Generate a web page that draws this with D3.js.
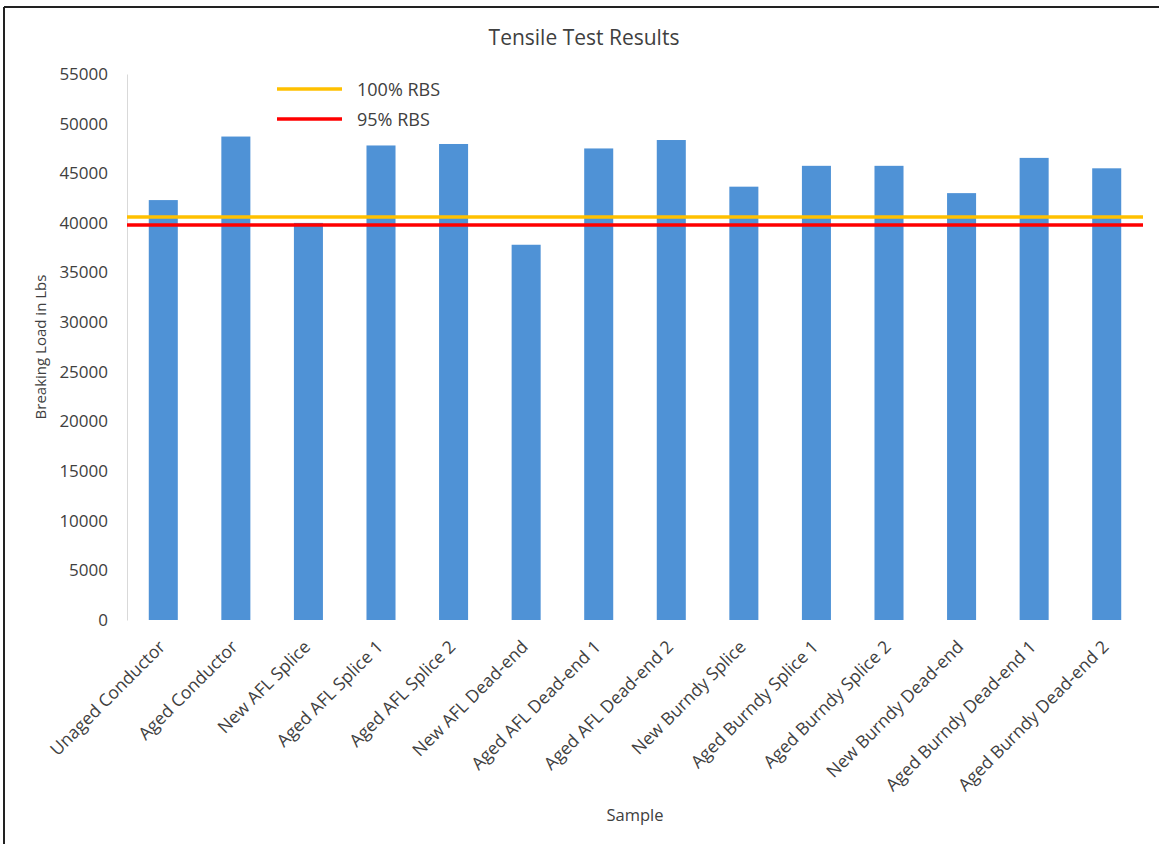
<!DOCTYPE html>
<html>
<head>
<meta charset="utf-8">
<script src="https://cdn.jsdelivr.net/npm/d3@7"></script>
<style>
  html, body { margin: 0; padding: 0; background: #fff; }
  svg { display: block; }
  text { font-family: "Open Sans", "Noto Sans", sans-serif; fill: #404040; }
</style>
</head>
<body>
<script>
const categories = [
  "Unaged Conductor", "Aged Conductor", "New AFL Splice", "Aged AFL Splice 1",
  "Aged AFL Splice 2", "New AFL Dead-end", "Aged AFL Dead-end 1", "Aged AFL Dead-end 2",
  "New Burndy Splice", "Aged Burndy Splice 1", "Aged Burndy Splice 2",
  "New Burndy Dead-end", "Aged Burndy Dead-end 1", "Aged Burndy Dead-end 2"
];
const breakingLoad = [42300, 48700, 40000, 47800, 47950, 37800, 47500, 48350,
                      43650, 45750, 45750, 43000, 46550, 45500];
const rbs100 = 40600;
const rbs95 = 39800;
const yTicks = [0, 5000, 10000, 15000, 20000, 25000, 30000, 35000, 40000, 45000, 50000, 55000];
const refLines = [
  { label: "100% RBS", value: rbs100, color: "#FFC000" },
  { label: "95% RBS", value: rbs95, color: "#FF0000" }
];

const W = 1159, H = 844;
const m = { left: 127, right: 16, top: 74, bottom: 224 };
const svg = d3.select("body").append("svg").attr("width", W).attr("height", H);

// outer border (top + left visible)
svg.append("line").attr("x1", 4).attr("x2", W).attr("y1", 7).attr("y2", 7)
  .attr("stroke", "#222").attr("stroke-width", 2);
svg.append("line").attr("x1", 4).attr("x2", 4).attr("y1", 7).attr("y2", H)
  .attr("stroke", "#222").attr("stroke-width", 2);

const x = d3.scaleBand().domain(categories).range([m.left, W - m.right]).paddingInner(0.6).paddingOuter(0.3);
const y = d3.scaleLinear().domain([0, 55000]).range([H - m.bottom, m.top]);

// y axis
const yAxis = svg.append("g").attr("transform", `translate(${m.left},0)`)
  .call(d3.axisLeft(y).tickValues(yTicks).tickSize(0).tickPadding(19).tickFormat(d3.format("d")));
yAxis.select(".domain").attr("stroke", "#d9d9d9");
yAxis.selectAll("text").style("font-size", "17px").attr("fill", "#404040")
  .style("font-family", "'Open Sans', sans-serif");

// bars
svg.append("g").selectAll("rect").data(categories).join("rect")
  .attr("x", d => x(d))
  .attr("width", x.bandwidth())
  .attr("y", (d, i) => y(breakingLoad[i]))
  .attr("height", (d, i) => y(0) - y(breakingLoad[i]))
  .attr("fill", "#4F92D6");

// x axis labels
const xAxis = svg.append("g").attr("transform", `translate(0,${y(0)})`)
  .call(d3.axisBottom(x).tickSize(0).tickPadding(0));
xAxis.select(".domain").remove();
xAxis.selectAll("text")
  .style("font-size", "17.5px").attr("fill", "#404040")
  .style("font-family", "'Open Sans', sans-serif")
  .attr("text-anchor", "end")
  .attr("dy", null)
  .attr("transform", "translate(3,28) rotate(-45)");

// reference lines
const x0 = m.left, x1 = W - m.right;
svg.append("g").selectAll("line").data(refLines).join("line")
  .attr("x1", x0).attr("x2", x1)
  .attr("y1", d => y(d.value)).attr("y2", d => y(d.value))
  .attr("stroke", d => d.color).attr("stroke-width", 3.5);

// legend
const lg = svg.append("g").attr("transform", "translate(277,89)");
refLines.forEach((d, i) => {
  const g = lg.append("g").attr("transform", `translate(0,${i * 30})`);
  g.append("line").attr("x1", 0).attr("x2", 65).attr("y1", 0).attr("y2", 0)
    .attr("stroke", d.color).attr("stroke-width", 3.5);
  g.append("text").attr("x", 80).attr("y", 7).text(d.label)
    .style("font-size", "18px").attr("fill", "#1a1a1a");
});

// title
svg.append("text").attr("x", 584).attr("y", 45).attr("text-anchor", "middle")
  .style("font-size", "21px").text("Tensile Test Results");

// y label
svg.append("text").attr("transform", "translate(46,347) rotate(-90)")
  .attr("text-anchor", "middle").style("font-size", "15px").text("Breaking Load in Lbs");

// x label
svg.append("text").attr("x", 635).attr("y", 821).attr("text-anchor", "middle")
  .style("font-size", "16.5px").text("Sample");
</script>
</body>
</html>
